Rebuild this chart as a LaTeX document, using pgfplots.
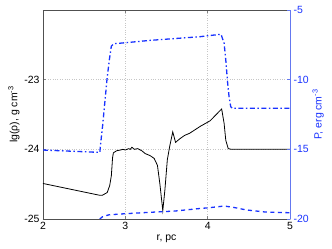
\documentclass[border=0pt]{standalone}
\usepackage{pgfplots}
\pgfplotsset{compat=1.18}
\usepackage{fontspec}
\setmainfont{Liberation Sans}
\definecolor{mblue}{RGB}{25,50,255}
\definecolor{ablue}{RGB}{100,120,240}
\definecolor{agray}{RGB}{80,80,80}
\begin{document}
\begin{tikzpicture}
\pgfplotsset{every axis/.append style={
  scale only axis, width=247bp, height=209bp, xmin=2, xmax=5,
  font=\fontsize{10.5}{12}\selectfont,
  tick align=inside, major tick length=3bp,
  tick style={line width=0.4pt}}}
\begin{axis}[name=ax,
  ymin=-25, ymax=-22,
  axis x line*=box, axis y line*=left,
  axis line style={agray, line width=0.5pt},
  xtick={2,3,4,5}, xticklabels={2,3,4,5},
  ytick={-25,-24,-23}, yticklabels={-25,-24,-23},
  grid=major, grid style={dotted, gray!45, line width=0.5pt},
  xlabel={r, pc},
  ylabel={lg(ρ), g cm\textsuperscript{-3}},
  xlabel style={yshift=2bp},
  ylabel style={yshift=-2bp},
]
\addplot[black, line width=0.8pt] coordinates {
(2.00,-24.49) (2.69,-24.66) (2.72,-24.66) (2.78,-24.62) (2.81,-24.52)
(2.83,-24.38) (2.845,-24.12) (2.855,-24.05) (2.895,-24.02) (2.94,-24.01)
(2.97,-24.00) (3.00,-24.01) (3.04,-23.99) (3.06,-24.00) (3.08,-23.97)
(3.11,-24.00) (3.15,-23.99) (3.20,-24.02) (3.24,-24.06) (3.30,-24.09)
(3.35,-24.13) (3.39,-24.23) (3.42,-24.50) (3.455,-24.88) (3.48,-24.59)
(3.51,-24.15) (3.54,-23.95) (3.576,-23.75) (3.61,-23.90) (3.66,-23.85)
(3.72,-23.80) (3.78,-23.77) (3.91,-23.67) (4.03,-23.59) (4.17,-23.42)
(4.20,-23.63) (4.22,-23.87) (4.25,-23.99) (4.29,-24.00) (5.00,-24.00)
};
\end{axis}
\begin{axis}[
  ymin=-20, ymax=-5,
  axis x line=none, axis y line*=right,
  axis line style={ablue, line width=0.5pt},
  ytick={-20,-15,-10,-5}, yticklabels={-20,-15,-10,-5},
  yticklabel style={mblue},
  ytick style={ablue},
  ylabel={P, erg cm\textsuperscript{-3}},
  ylabel style={mblue, yshift=3bp},
]
\addplot[mblue, line width=1.3pt, dash pattern=on 5bp off 2.5bp on 1.5bp off 2.5bp] coordinates {
(2.00,-15.05) (2.69,-15.22) (2.70,-14.6) (2.725,-13.25) (2.777,-10.0)
(2.805,-8.6) (2.83,-7.6) (2.86,-7.42) (3.0,-7.35) (3.3,-7.18) (3.6,-7.05)
(3.9,-6.92) (4.162,-6.74) (4.20,-7.39) (4.22,-8.59) (4.243,-10.26)
(4.26,-11.22) (4.28,-11.94) (4.30,-12.05) (5.00,-12.05)
};
\addplot[mblue, line width=1.3pt, dash pattern=on 4bp off 3.5bp] coordinates {
(2.69,-20.0) (2.72,-19.85) (2.80,-19.70) (3.0,-19.62) (3.3,-19.52)
(3.6,-19.43) (3.9,-19.25) (4.0,-19.2) (4.2,-19.07) (4.3,-19.15)
(4.47,-19.35) (4.7,-19.5) (5.0,-19.55)
};
\end{axis}
\pgfresetboundingbox
\path ([shift={(-43bp,-30bp)}]ax.south west) rectangle ([shift={(42bp,10bp)}]ax.north east);
\end{tikzpicture}
\end{document}
